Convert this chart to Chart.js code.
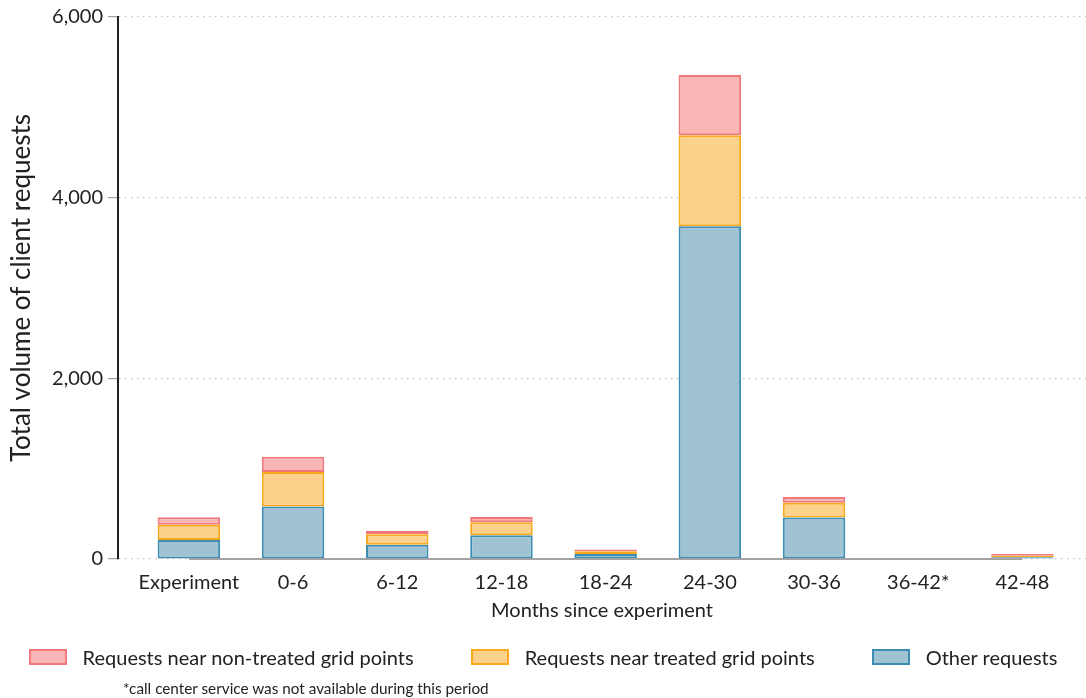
<!DOCTYPE html>
<html>
<head>
<meta charset="utf-8">
<script src="https://cdn.jsdelivr.net/npm/chart.js@4"></script>
<style>
html, body { margin: 0; padding: 0; background: #fff; }
#wrap { position: relative; width: 1086px; height: 698px; }
#legend { position: absolute; left: 0; width: 1086px; top: 645px; display: flex; justify-content: center; gap: 57px; font: 20px Lato, sans-serif; color: #222; }
#legend .item { display: flex; align-items: center; white-space: nowrap; }
#legend .box { width: 34px; height: 12px; border-width: 2px; border-style: solid; margin-right: 16px; }
#note { position: absolute; left: 123px; top: 679px; font: 15.3px Lato, sans-serif; color: #222; white-space: nowrap; }
</style>
</head>
<body>
<div id="wrap">
  <canvas id="chart" width="1086" height="698"></canvas>
  <div id="legend"></div>
  <div id="note">*call center service was not available during this period</div>
</div>
<script>
const categories = ["Experiment", "0-6", "6-12", "12-18", "18-24", "24-30", "30-36", "36-42*", "42-48"];
const otherRequests = [211, 581, 159, 262, 55, 3684, 460, 0, 20];
const treatedRequests = [167, 381, 114, 144, 30, 1008, 162, 0, 15];
const nonTreatedRequests = [84, 171, 41, 60, 20, 667, 63, 0, 20];
const yTicks = [0, 2000, 4000, 6000];

const textColor = "#222";
const fontFamily = "Lato, sans-serif";

function points(values) {
    return values.map((v, i) => ({ x: i, y: v }));
}

// solid grey baseline running from the first to the last category
const baseline = {
    id: "baseline",
    afterDatasetsDraw(chart) {
        const xs = chart.scales.x, ys = chart.scales.y, ctx = chart.ctx;
        const y0 = ys.getPixelForValue(0);
        ctx.save();
        ctx.strokeStyle = "#a3a3a3";
        ctx.lineWidth = 2;
        ctx.beginPath();
        ctx.moveTo(xs.getPixelForValue(0), y0);
        ctx.lineTo(xs.getPixelForValue(categories.length - 1), y0);
        ctx.stroke();
        ctx.restore();
    }
};

const chart = new Chart(document.getElementById("chart"), {
    type: "bar",
    data: {
        datasets: [
            {
                label: "Other requests",
                data: points(otherRequests),
                backgroundColor: "#9fc3d3",
                borderColor: "#3d8db2"
            },
            {
                label: "Requests near treated grid points",
                data: points(treatedRequests),
                backgroundColor: "#fcd18b",
                borderColor: "#f9a91c"
            },
            {
                label: "Requests near non-treated grid points",
                data: points(nonTreatedRequests),
                backgroundColor: "#f9b6b7",
                borderColor: "#f2777b"
            }
        ]
    },
    options: {
        responsive: false,
        animation: false,
        layout: { padding: { top: 12, right: 0, bottom: 75, left: 0 } },
        datasets: {
            bar: { categoryPercentage: 1, barPercentage: 0.6, borderWidth: 2, borderSkipped: false }
        },
        scales: {
            x: {
                type: "linear",
                offset: false,
                min: -0.68,
                max: 8.61,
                stacked: true,
                grid: { display: false },
                border: { display: false },
                afterBuildTicks: s => { s.ticks = categories.map((c, i) => ({ value: i })); },
                ticks: {
                    callback: (v, i) => categories[i],
                    color: textColor,
                    font: { family: fontFamily, size: 20 },
                    padding: 4
                },
                title: {
                    display: true,
                    text: "Months since experiment",
                    color: textColor,
                    font: { family: fontFamily, size: 20 },
                    padding: { top: 0, bottom: 0 }
                }
            },
            y: {
                stacked: true,
                min: 0,
                max: 6000,
                afterBuildTicks: s => { s.ticks = yTicks.map(v => ({ value: v })); },
                afterFit: s => { s.width = 118; },
                grid: { color: "#c4c4c4", lineWidth: 1.2, tickColor: "#a0a0a0", tickLength: 10 },
                border: { color: "#222", width: 2, dash: [1.5, 4.5] },
                ticks: {
                    callback: v => v.toLocaleString("en-US"),
                    color: textColor,
                    font: { family: fontFamily, size: 20 },
                    padding: 5
                },
                title: {
                    display: true,
                    text: "Total volume of client requests",
                    color: textColor,
                    font: { family: fontFamily, size: 26 },
                    padding: { top: 6, bottom: 0 }
                }
            }
        },
        plugins: {
            legend: { display: false },
            tooltip: { enabled: false }
        }
    },
    plugins: [baseline]
});

// legend built from the datasets, topmost stack segment first
const legendEl = document.getElementById("legend");
chart.data.datasets.slice().reverse().forEach(ds => {
    const item = document.createElement("div");
    item.className = "item";
    const box = document.createElement("span");
    box.className = "box";
    box.style.background = ds.backgroundColor;
    box.style.borderColor = ds.borderColor;
    item.appendChild(box);
    item.appendChild(document.createTextNode(ds.label));
    legendEl.appendChild(item);
});
</script>
</body>
</html>
